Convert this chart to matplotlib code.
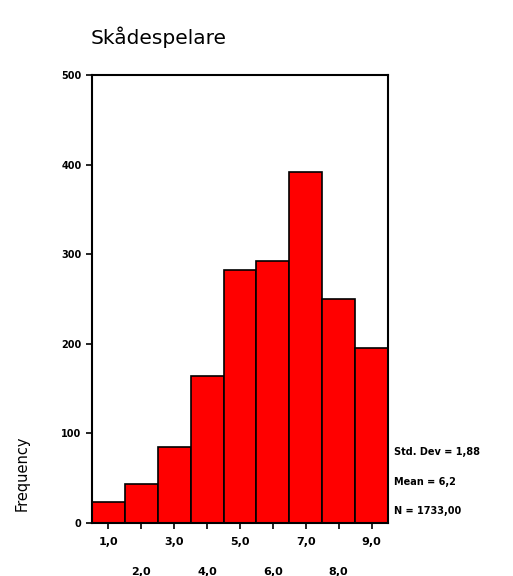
import matplotlib
matplotlib.use("Agg")
import matplotlib.pyplot as plt

# histogram of actor ratings (SPSS style)
bins = [1, 2, 3, 4, 5, 6, 7, 8, 9]
counts = [23, 43, 85, 164, 282, 292, 392, 250, 195]
tick_labels = ["1,0", "2,0", "3,0", "4,0", "5,0", "6,0", "7,0", "8,0", "9,0"]
yticks = [0, 100, 200, 300, 400, 500]
stats = ["Std. Dev = 1,88", "Mean = 6,2", "N = 1733,00"]

fig = plt.figure(figsize=(5.13, 5.76), dpi=100)
ax = fig.add_axes([0.1793, 0.092, 0.577, 0.778])

ax.bar(bins, counts, width=1.0, color="#ff0000", edgecolor="black", linewidth=1.2)
ax.set_xlim(0.5, 9.5)
ax.set_ylim(0, 500)

for s in ax.spines.values():
    s.set_linewidth(1.5)

ax.set_yticks(yticks)
ax.set_yticklabels([str(v) for v in yticks], fontsize=7, fontweight="bold")
ax.set_xticks(bins)
ax.set_xticklabels([])
ax.tick_params(axis="both", direction="out", length=4, width=1.2)

# staggered x tick labels: odd on first row, even on second row
for b, lab in zip(bins, tick_labels):
    dy = -14 if b % 2 else -35
    ax.annotate(lab, xy=(b, 0), xycoords=("data", "axes fraction"),
                xytext=(0, dy), textcoords="offset points",
                ha="center", va="center", fontsize=8, fontweight="bold")

fig.text(0.176, 0.935, "Skådespelare", fontsize=14.5, ha="left", va="center")
fig.text(0.043, 0.178, "Frequency", fontsize=10.5, rotation=90, ha="center", va="center")

for i, t in enumerate(stats):
    fig.text(0.768, 0.215 - i * 0.051, t, fontsize=7, fontweight="bold",
             ha="left", va="center")

fig.savefig("out.png", dpi=100)
